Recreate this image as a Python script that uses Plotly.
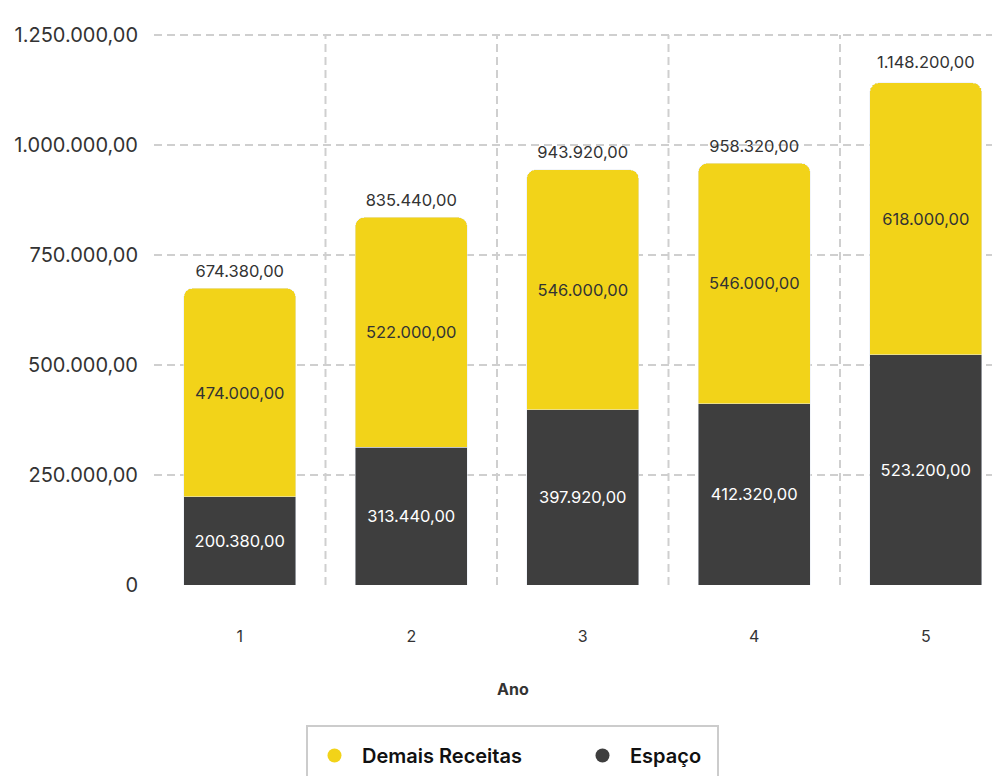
import plotly.graph_objects as go

# ---- data ----
anos = ["1", "2", "3", "4", "5"]
espaco = [200380, 313440, 397920, 412320, 523200]
demais = [474000, 522000, 546000, 546000, 618000]
totais = [674380, 835440, 943920, 958320, 1148200]
y_tick_vals = [0, 250000, 500000, 750000, 1000000, 1250000]
y_tick_text = ["0", "250.000,00", "500.000,00", "750.000,00", "1.000.000,00", "1.250.000,00"]

YELLOW = "#F2D319"
DARK = "#3E3E3E"
TXT = "#333333"
GRID = "#CFCFCF"
FONT = "Inter"

W, H = 1000, 776
OFF = 8  # page body margin: screen px -> figure px
plot_left, plot_right = 154 - OFF, 1000 - OFF
plot_top, plot_bottom = 10 - OFF, 585 - OFF
pw = plot_right - plot_left
ph = plot_bottom - plot_top


def px_x(p):  # screen px -> paper
    return (p - OFF - plot_left) / pw


def px_y(p):
    return (plot_bottom - (p - OFF)) / ph


fig = go.Figure()

fig.add_trace(go.Bar(
    x=anos, y=espaco, name="Espaço", marker_color=DARK, showlegend=False,
    texttemplate="%{y:,.2f}", textposition="inside", insidetextanchor="middle",
    textangle=0, constraintext="none",
    insidetextfont=dict(color="white", size=16.5, family=FONT),
))
fig.add_trace(go.Bar(
    x=anos, y=demais, name="Demais Receitas", marker_color=YELLOW, showlegend=False,
    texttemplate="%{y:,.2f}", textposition="inside", insidetextanchor="middle",
    textangle=0, constraintext="none",
    insidetextfont=dict(color=TXT, size=16.5, family=FONT),
))

# totals above the stacks
fig.add_trace(go.Scatter(
    x=anos, y=totais, mode="markers+text", showlegend=False, hoverinfo="skip",
    marker=dict(size=10, color="rgba(0,0,0,0)"),
    texttemplate="%{y:,.2f}", textposition="top center",
    textfont=dict(size=16.5, color=TXT, family=FONT),
))

# legend-only entries with circle markers
fig.add_trace(go.Scatter(x=[None], y=[None], mode="markers", name="Demais Receitas",
                         marker=dict(color=YELLOW, size=14, symbol="circle")))
fig.add_trace(go.Scatter(x=[None], y=[None], mode="markers", name="Espaço",
                         marker=dict(color=DARK, size=14, symbol="circle")))

# vertical dashed separators between categories
for i in range(len(anos) - 1):
    fig.add_shape(type="line", xref="x", yref="y", x0=i + 0.5, x1=i + 0.5,
                  y0=0, y1=y_tick_vals[-1], layer="below",
                  line=dict(color=GRID, width=2, dash="8px,5px"))

# legend box
fig.add_shape(type="rect", xref="paper", yref="paper",
              x0=px_x(307), x1=px_x(718), y0=px_y(726), y1=px_y(810),
              line=dict(color="#CCCCCC", width=2), fillcolor="rgba(0,0,0,0)")

# x axis title
fig.add_annotation(xref="paper", yref="paper", x=px_x(513), y=px_y(689),
                   text="<b>Ano</b>", showarrow=False, xanchor="center", yanchor="middle",
                   font=dict(size=16, color=TXT, family=FONT))

cat_px = 171.5
x_hi = pw / cat_px - 0.5

fig.update_layout(
    width=W, height=H,
    barmode="stack", bargap=0.347, barcornerradius=9,
    separators=",.",
    paper_bgcolor="white", plot_bgcolor="white",
    font=dict(family=FONT, color=TXT),
    margin=dict(l=plot_left, r=W - plot_right, t=plot_top, b=H - plot_bottom),
    xaxis=dict(
        type="category", range=[-0.5, x_hi], showgrid=False, zeroline=False,
        showline=False, ticks="", ticklabelstandoff=40, automargin=False,
        tickfont=dict(size=16, color=TXT, family=FONT),
    ),
    yaxis=dict(
        range=[0, ph / 0.44 * 1000], tickvals=y_tick_vals, ticktext=y_tick_text,
        showgrid=True, gridcolor=GRID, gridwidth=2, griddash="8px,5px",
        zeroline=False, showline=False, ticks="", ticklabelstandoff=15,
        automargin=False,
        tickfont=dict(size=20, color=TXT, family=FONT),
    ),
    legend=dict(
        orientation="h", x=px_x(307), xanchor="left",
        y=px_y(736), yanchor="top", traceorder="normal",
        borderwidth=0, bgcolor="rgba(0,0,0,0)",
        font=dict(size=20, color="#111111", family=FONT, weight=600),
        itemsizing="trace", itemwidth=45, entrywidth=208,
    ),
)

fig.write_html("out.html")
